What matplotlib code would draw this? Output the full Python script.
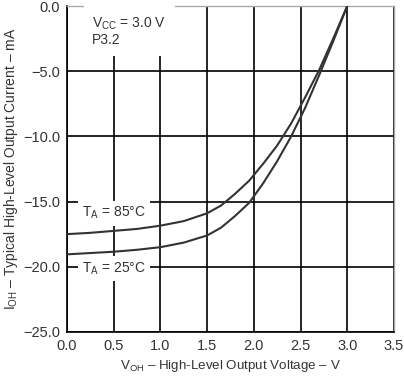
import matplotlib
matplotlib.use("Agg")
import matplotlib.pyplot as plt

plt.rcParams["font.family"] = ["Liberation Sans", "DejaVu Sans"]
plt.rcParams["mathtext.fontset"] = "custom"
plt.rcParams["mathtext.rm"] = "Liberation Sans"
plt.rcParams["mathtext.it"] = "Liberation Sans"

v_85 = [0.0, 0.25, 0.5, 0.75, 1.0, 1.25, 1.5, 1.65, 1.8, 1.95, 2.1, 2.25, 2.4, 2.55, 2.7, 2.85, 3.0]
i_85 = [-17.5, -17.4, -17.25, -17.1, -16.85, -16.5, -15.9, -15.3, -14.4, -13.4, -12.1, -10.7, -9.0, -7.0, -4.9, -2.5, 0.0]
v_25 = [0.0, 0.25, 0.5, 0.75, 1.0, 1.25, 1.5, 1.65, 1.8, 1.95, 2.1, 2.25, 2.4, 2.55, 2.7, 2.85, 3.0]
i_25 = [-19.05, -18.95, -18.85, -18.7, -18.5, -18.15, -17.6, -17.0, -16.1, -15.1, -13.6, -11.9, -10.0, -7.8, -5.3, -2.7, 0.0]

x_ticks = [0.0, 0.5, 1.0, 1.5, 2.0, 2.5, 3.0, 3.5]
y_ticks = [0.0, -5.0, -10.0, -15.0, -20.0, -25.0]

txt = "#333333"

fig = plt.figure(figsize=(4.04, 3.78), dpi=100)
ax = fig.add_axes([0.166, 0.122, 0.809, 0.862])

ax.set_xlim(0, 3.5)
ax.set_ylim(-25, 0)
ax.set_xticks(x_ticks)
ax.set_yticks(y_ticks)
ax.set_xticklabels(["%.1f" % t for t in x_ticks])
ax.set_yticklabels([("%.1f" % t).replace("-", "\u2212") for t in y_ticks])
ax.tick_params(length=0, pad=5, labelsize=10.5, colors=txt)

ax.grid(True, color="black", linewidth=1.2)
ax.set_axisbelow(True)
for side in ["left", "bottom"]:
  ax.spines[side].set_color("black")
  ax.spines[side].set_linewidth(1.2)
for side in ["right", "top"]:
  ax.spines[side].set_color("#aaaaaa")
  ax.spines[side].set_linewidth(1.0)

ax.plot(v_85, i_85, color="#333333", linewidth=1.5, zorder=3)
ax.plot(v_25, i_25, color="#333333", linewidth=1.5, zorder=3)

box = dict(facecolor="white", edgecolor="none", pad=3)
ax.text(0.27, -0.7, "V$_{\\mathrm{CC}}$ = 3.0 V\nP3.2", fontsize=10, color=txt,
        va="top", ha="left", linespacing=1.15,
        bbox=dict(facecolor="white", edgecolor="none", pad=6), zorder=4)
ax.text(0.16, -15.9, "T$_{\\mathrm{A}}$ = 85°C", fontsize=10, color=txt,
        va="center", ha="left", bbox=box, zorder=4)
ax.text(0.16, -20.15, "T$_{\\mathrm{A}}$ = 25°C", fontsize=10, color=txt,
        va="center", ha="left", bbox=box, zorder=4)

ax.set_xlabel("V$_{\\mathrm{OH}}$ \u2013 High-Level Output Voltage \u2013 V", fontsize=9.6, color=txt, labelpad=4)
ax.set_ylabel("I$_{\\mathrm{OH}}$ \u2013 Typical High-Level Output Current \u2013 mA", fontsize=10, color=txt, labelpad=2)

fig.savefig("out.png", dpi=100, facecolor="white")
